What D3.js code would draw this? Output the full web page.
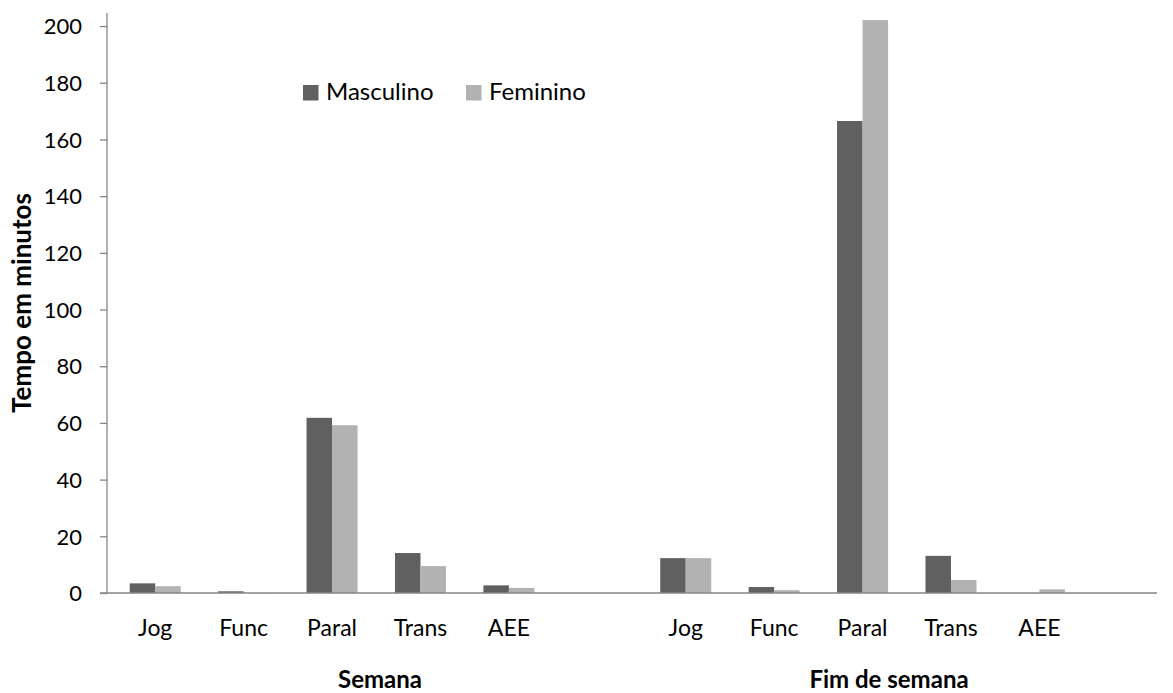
<!DOCTYPE html>
<html>
<head>
<meta charset="utf-8">
<script src="https://cdn.jsdelivr.net/npm/d3@7"></script>
<style>
  body { margin: 0; background: #fff; }
  svg text { font-family: Lato, "Open Sans", sans-serif; fill: #000; }
</style>
</head>
<body>
<svg id="chart" width="1173" height="693"></svg>
<script>
// Data
const groups = ['Semana', 'Fim de semana'];
const activities = ['Jog', 'Func', 'Paral', 'Trans', 'AEE'];
const masculinoSemana = [3.4, 0.6, 61.8, 14.1, 2.7];
const femininoSemana = [2.4, 0.1, 59.2, 9.5, 1.8];
const masculinoFim = [12.3, 2.1, 166.5, 13.1, 0];
const femininoFim = [12.3, 1.0, 202.1, 4.6, 1.3];
const yTicks = [0, 20, 40, 60, 80, 100, 120, 140, 160, 180, 200];
const series = ['Masculino', 'Feminino'];
const colors = ['#606060', '#b2b2b2'];

// Build rows: one per category slot, with an empty slot between the groups
const rows = [];
const values = [[masculinoSemana, femininoSemana], [masculinoFim, femininoFim]];
groups.forEach((g, gi) => {
    activities.forEach((a, ai) => {
        rows.push({ key: g + '|' + a, group: g, label: a, vals: [values[gi][0][ai], values[gi][1][ai]] });
    });
    if (gi === 0) rows.push({ key: 'gap', group: null, label: '', vals: [] });
});

const svg = d3.select('#chart');
const plotLeft = 107, plotTop = 13, plotBottom = 593, plotRight = 1157;
const bandStart = 111, step = 88.42;

const x = d3.scaleBand()
    .domain(rows.map(d => d.key))
    .range([bandStart, bandStart + step * rows.length])
    .paddingInner(0.423)
    .paddingOuter(0.2115);

const xSub = d3.scaleBand()
    .domain(series)
    .range([0, x.bandwidth()]);

const y = d3.scaleLinear()
    .domain([0, 204.6])
    .range([plotBottom, plotTop]);

// Bars
const slot = svg.append('g')
    .selectAll('g')
    .data(rows.filter(d => d.vals.length))
    .enter()
    .append('g')
    .attr('transform', d => `translate(${x(d.key)},0)`);

slot.selectAll('rect')
    .data(d => d.vals.map((v, i) => ({ s: series[i], v: v, i: i })))
    .enter()
    .append('rect')
    .attr('x', d => xSub(d.s))
    .attr('y', d => y(d.v))
    .attr('width', xSub.bandwidth())
    .attr('height', d => plotBottom - y(d.v))
    .attr('fill', d => colors[d.i]);

// Y axis
const yAxis = svg.append('g')
    .attr('transform', `translate(${plotLeft},0)`)
    .call(d3.axisLeft(y).tickValues(yTicks).tickSize(7).tickSizeOuter(0).tickPadding(18));
yAxis.select('.domain').attr('stroke', '#868686').attr('stroke-width', 1.3).attr('d', `M0,${plotTop}V${plotBottom}`);
yAxis.selectAll('.tick line').attr('stroke', '#868686').attr('stroke-width', 1.3);
yAxis.selectAll('.tick text').style('font-size', '22px').attr('dy', '0.35em');

// X axis line
svg.append('line')
    .attr('x1', plotLeft - 7).attr('x2', plotRight)
    .attr('y1', y(0)).attr('y2', y(0))
    .attr('stroke', '#868686').attr('stroke-width', 1.5);

// Category labels
svg.append('g')
    .selectAll('text')
    .data(rows)
    .enter()
    .append('text')
    .attr('x', d => x(d.key) + x.bandwidth() / 2)
    .attr('y', 636)
    .attr('text-anchor', 'middle')
    .style('font-size', '23px')
    .text(d => d.label);

// Group labels
const groupLabelX = [380, 889];
groups.forEach((g, i) => {
    svg.append('text')
        .attr('x', groupLabelX[i])
        .attr('y', 688)
        .attr('text-anchor', 'middle')
        .style('font-size', '24px')
        .style('font-weight', 'bold')
        .text(g);
});

// Y axis title
svg.append('text')
    .attr('transform', `translate(31,${(plotTop + plotBottom) / 2}) rotate(-90)`)
    .attr('text-anchor', 'middle')
    .style('font-size', '26px')
    .style('font-weight', 'bold')
    .text('Tempo em minutos');

// Legend
const legend = svg.append('g').attr('transform', 'translate(303,85)');
const legendX = [0, 163];
series.forEach((s, i) => {
    const item = legend.append('g').attr('transform', `translate(${legendX[i]},0)`);
    item.append('rect').attr('width', 15.5).attr('height', 15.5).attr('fill', colors[i]);
    item.append('text').attr('x', 23).attr('y', 15).style('font-size', '24px').text(s);
});
</script>
</body>
</html>
